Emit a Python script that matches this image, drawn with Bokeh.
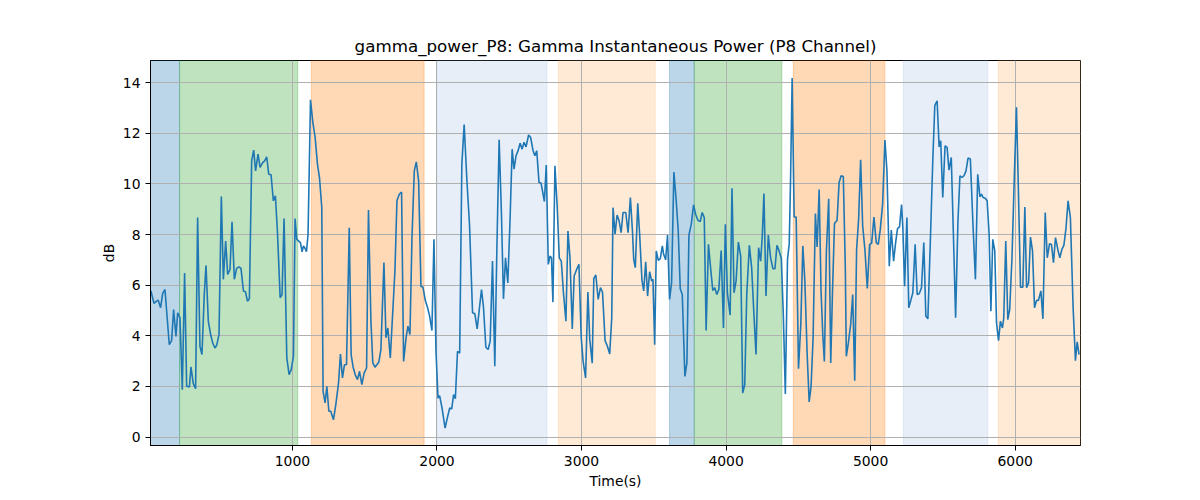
from bokeh.plotting import figure
from bokeh.models import ColumnDataSource, Range1d, FixedTicker
from bokeh.embed import file_html
from bokeh.resources import INLINE

# ---- data ----
time_s = [
    21, 42, 60, 71, 88, 102, 118, 148, 164, 178,
    194, 206, 222, 238, 254, 268, 287, 298, 314, 330,
    344, 360, 374, 390, 402, 418, 434, 448, 464, 476,
    492, 508, 522, 538, 552, 568, 582, 598, 614, 630,
    644, 661, 675, 689, 702, 718, 732, 745, 762, 776,
    794, 808, 822, 836, 852, 868, 882, 896, 915, 928,
    942, 961, 977, 991, 1007, 1018, 1030, 1044, 1055, 1067,
    1076, 1085, 1097, 1108, 1125, 1141, 1157, 1173, 1187, 1203,
    1212, 1226, 1238, 1252, 1265, 1284, 1300, 1319, 1332, 1346,
    1360, 1374, 1393, 1406, 1420, 1434, 1450, 1464, 1480, 1496,
    1513, 1526, 1543, 1556, 1571, 1584, 1598, 1612, 1633, 1647,
    1660, 1677, 1693, 1709, 1723, 1739, 1755, 1769, 1786, 1799,
    1813, 1827, 1843, 1857, 1873, 1889, 1903, 1919, 1935, 1949,
    1965, 1979, 1993, 2007, 2018,
    2035, 2056, 2074, 2088, 2102, 2115, 2127, 2142, 2157, 2172,
    2188, 2207, 2225, 2246, 2262, 2278, 2294, 2308, 2322, 2338,
    2354, 2368, 2384, 2400, 2414, 2430, 2446, 2460, 2474, 2490,
    2506, 2520, 2533, 2547, 2561, 2575, 2589, 2602, 2616, 2634,
    2648, 2664, 2677, 2690, 2706, 2720, 2734, 2743, 2756, 2770,
    2782, 2792, 2802, 2816, 2832, 2846, 2860, 2874, 2892, 2906,
    2920, 2936, 2949, 2966, 2982, 2998, 3011, 3028, 3044, 3057,
    3074, 3085, 3099, 3115, 3131, 3145, 3163, 3179, 3195, 3209,
    3218, 3232, 3246, 3260, 3274, 3287, 3306, 3322, 3338, 3352,
    3361, 3372, 3389, 3402, 3418, 3430, 3444, 3457, 3471, 3485,
    3494, 3506, 3517, 3531, 3545, 3559, 3568, 3582, 3595, 3609,
    3623, 3639, 3655, 3669, 3683, 3697, 3715, 3729, 3743, 3759,
    3775, 3789, 3805, 3821, 3835, 3849, 3862, 3878, 3894, 3908,
    3922, 3936, 3950, 3966, 3982, 3995, 4009, 4028, 4041, 4055,
    4069, 4085, 4101, 4115, 4129, 4143, 4161, 4177, 4191, 4207,
    4225,
    4239, 4250, 4262, 4276, 4292, 4308, 4324, 4338, 4352, 4366,
    4382, 4396, 4410, 4425, 4437, 4446, 4457, 4471, 4485, 4501,
    4517, 4531, 4545, 4561, 4575, 4588, 4602, 4618, 4630, 4644,
    4657, 4669, 4680, 4694, 4710, 4724, 4736, 4750, 4768, 4782,
    4796, 4811, 4825, 4832, 4846, 4862, 4876, 4890, 4903, 4917,
    4931, 4945, 4961, 4977, 4993, 5007, 5023, 5039, 5053, 5067,
    5083, 5099, 5113, 5129, 5143, 5159, 5173, 5186, 5200, 5214,
    5223, 5235, 5251, 5264, 5278, 5292, 5308, 5322, 5336, 5352,
    5368, 5382, 5396, 5414, 5430, 5444, 5460, 5474, 5485, 5499,
    5515, 5529, 5542, 5558, 5572, 5588, 5604, 5618, 5632, 5646,
    5660, 5674, 5690, 5709, 5725, 5741, 5756, 5767, 5779, 5793,
    5806, 5820, 5832, 5845, 5859, 5871, 5885, 5898, 5912, 5921,
    5935, 5949, 5962, 5978, 5994, 6009, 6023, 6037, 6053, 6067,
    6079, 6093, 6106, 6120, 6134, 6148, 6161, 6178, 6192, 6208,
    6222, 6238, 6251, 6265, 6279, 6295, 6309, 6323, 6337, 6351,
    6366, 6382, 6401, 6417, 6429, 6442,
]
power_db = [
    5.77, 5.28, 5.37, 5.41, 5.11, 5.67, 5.83, 3.65, 3.81, 5.04,
    3.98, 4.91, 4.71, 1.87, 6.48, 2.01, 1.98, 2.77, 2.11, 1.91,
    8.67, 3.59, 3.26, 5.63, 6.78, 4.58, 4.05, 3.72, 3.52, 3.63,
    4.05, 9.50, 6.23, 7.74, 6.42, 6.62, 8.50, 6.23, 6.66, 6.72,
    6.66, 5.77, 5.74, 5.37, 5.46, 10.91, 11.33, 10.51, 11.17, 10.65,
    10.84, 10.91, 11.07, 10.38, 10.36, 9.33, 9.53, 8.14, 5.50, 5.63,
    8.63, 3.13, 2.47, 2.66, 3.19, 8.63, 7.81, 7.74, 7.68, 7.32,
    7.55, 7.48, 7.32, 8.01, 13.32, 12.43, 11.83, 10.78, 10.25, 9.06,
    1.81, 1.35, 2.01, 1.02, 1.02, 0.69, 1.28, 2.14, 3.28, 2.34,
    2.86, 2.86, 8.27, 3.26, 2.76, 2.47, 2.27, 2.60, 2.07, 2.53,
    2.73, 8.97, 4.58, 2.93, 2.76, 2.86, 2.97, 3.46, 6.89, 3.92,
    4.31, 3.13, 4.84, 6.56, 9.33, 9.59, 9.68, 2.99, 3.92, 4.38,
    4.05, 7.88, 10.51, 10.87, 10.12, 5.96, 5.92, 5.40, 5.11, 4.78,
    4.21, 7.81, 3.39, 1.54, 1.64,
    1.15, 0.36, 0.82, 1.15, 1.12, 1.68, 1.52, 3.39, 3.32, 10.78,
    12.34, 10.12, 8.40, 4.91, 4.87, 4.27, 5.11, 5.83, 5.11, 3.55,
    3.46, 3.79, 6.95, 2.80, 7.35, 11.74, 8.80, 5.46, 7.08, 6.09,
    8.67, 11.37, 10.58, 11.11, 11.31, 11.60, 11.37, 11.64, 11.46, 11.93,
    11.83, 11.33, 11.11, 11.31, 10.05, 10.03, 9.59, 9.30, 10.74, 6.82,
    7.15, 7.08, 5.33, 10.71, 9.06, 7.08, 6.95, 5.77, 4.58, 8.14,
    7.08, 4.27, 6.36, 6.62, 6.82, 3.92, 2.99, 2.34, 5.73, 3.85,
    2.92, 6.27, 6.40, 5.44, 5.90, 5.73, 3.81, 3.59, 3.28, 4.71,
    9.06, 8.01, 8.77, 8.54, 8.07, 8.87, 8.87, 8.07, 9.46, 8.17,
    7.02, 6.69, 9.23, 8.01, 6.20, 5.77, 6.92, 5.57, 6.53, 6.16,
    6.23, 3.65, 7.35, 6.98, 7.05, 7.55, 7.22, 7.00, 7.98, 5.44,
    6.09, 10.47, 9.33, 8.14, 5.86, 5.63, 2.40, 2.93, 7.98, 8.40,
    9.17, 8.80, 8.56, 8.51, 8.87, 8.67, 4.21, 7.61, 6.62, 5.79,
    5.90, 5.63, 5.83, 7.37, 4.31, 8.40, 5.70, 4.82, 9.83, 5.70,
    6.16, 7.70, 7.15, 1.74, 2.07, 5.63, 7.57, 6.69, 5.04, 3.26,
    7.48,
    6.95, 7.88, 9.62, 5.57, 7.98, 7.08, 6.65, 6.65, 7.57, 7.37,
    7.06, 4.84, 1.70, 7.02, 7.64, 10.12, 14.18, 8.69, 8.69, 2.70,
    4.45, 7.55, 6.16, 3.26, 1.39, 2.01, 3.92, 8.83, 7.51, 9.78,
    5.77, 4.05, 2.99, 7.35, 9.41, 2.93, 5.70, 8.43, 8.56, 10.05,
    10.32, 10.29, 6.69, 3.19, 3.72, 4.45, 5.63, 2.23, 7.41, 8.60,
    10.95, 8.34, 7.37, 5.87, 7.61, 7.65, 8.69, 7.68, 7.61, 8.21,
    9.20, 11.73, 10.51, 6.75, 8.18, 6.95, 7.68, 8.23, 8.30, 9.18,
    8.25, 5.96, 8.67, 5.11, 5.40, 5.70, 7.61, 5.63, 5.66, 5.90,
    7.68, 4.78, 4.67, 7.88, 10.91, 13.09, 13.28, 11.46, 11.70, 9.46,
    11.50, 11.44, 10.54, 11.04, 8.14, 4.71, 8.50, 10.32, 10.25, 10.32,
    10.51, 11.02, 10.98, 8.27, 6.23, 10.38, 9.49, 9.59, 9.46, 9.43,
    9.33, 8.01, 4.97, 7.81, 7.35, 4.51, 3.81, 4.58, 4.31, 4.71,
    7.74, 4.64, 5.04, 7.08, 10.25, 13.02, 9.59, 5.92, 5.92, 9.09,
    5.90, 6.10, 7.90, 7.35, 5.11, 5.40, 5.40, 5.77, 4.67, 8.87,
    7.08, 7.64, 7.61, 6.89, 7.88, 7.41, 7.08, 7.41, 7.57, 8.21,
    9.33, 8.67, 5.11, 3.02, 3.76, 3.26,
]

# shaded phases (start, end in seconds) and their phase type
phase_start = [18, 219, 1131, 2000, 2840, 3609, 3780, 4465, 5226, 5883]
phase_end = [219, 1037, 1911, 2761, 3510, 3780, 4386, 5099, 5811, 6452]
phase_kind = ["A", "B", "C", "D", "E", "A", "B", "C", "D", "E"]

x_ticks = [1000, 2000, 3000, 4000, 5000, 6000]
y_ticks = [0, 2, 4, 6, 8, 10, 12, 14]

# ---- styles ----
kind_color = {"A": "#1f77b4", "B": "#2ca02c", "C": "#ff7f0e", "D": "#aec7e8", "E": "#ffbb78"}
FONT = "DejaVu Sans"

p = figure(
    width=1184, height=492,
    output_backend="svg", toolbar_location=None,
    x_range=Range1d(18, 6452), y_range=Range1d(-0.33, 14.87),
    title="gamma_power_P8: Gamma Instantaneous Power (P8 Channel)",
    min_border_left=150, min_border_right=104, min_border_top=60, min_border_bottom=47,
)
p.title.align = "center"
p.title.text_font = FONT
p.title.text_font_size = "16.7px"
p.title.text_font_style = "normal"
p.title.text_color = "black"

span_src = ColumnDataSource(dict(
    left=phase_start, right=phase_end,
    color=[kind_color[k] for k in phase_kind],
))
r = p.quad(left="left", right="right", bottom=-100, top=100, source=span_src,
           fill_color="color", fill_alpha=0.3, line_color="color", line_alpha=0.3,
           line_width=1)
r.level = "image"

p.line(time_s, power_db, line_color="#1f77b4", line_width=1.6)

p.xaxis.ticker = FixedTicker(ticks=x_ticks)
p.yaxis.ticker = FixedTicker(ticks=y_ticks)
p.xaxis.axis_label = "Time(s)"
p.yaxis.axis_label = "dB"
for ax in (p.xaxis, p.yaxis):
    ax.axis_label_text_font = FONT
    ax.axis_label_text_font_size = "13.9px"
    ax.axis_label_text_font_style = "normal"
    ax.axis_label_text_color = "black"
    ax.major_label_text_font = FONT
    ax.major_label_text_font_size = "13.9px"
    ax.major_label_text_color = "black"
    ax.minor_tick_line_color = None
    ax.major_tick_out = 5
    ax.major_tick_in = 0
    ax.major_tick_line_color = "black"
    ax.axis_line_color = "black"
p.xaxis.axis_label_standoff = 4
p.yaxis.axis_label_standoff = 3

p.grid.grid_line_color = "#b0b0b0"
p.grid.grid_line_width = 1
p.outline_line_color = "black"
p.outline_line_width = 1
p.outline_line_alpha = 1

open("out.html", "w").write(file_html(p, INLINE))
